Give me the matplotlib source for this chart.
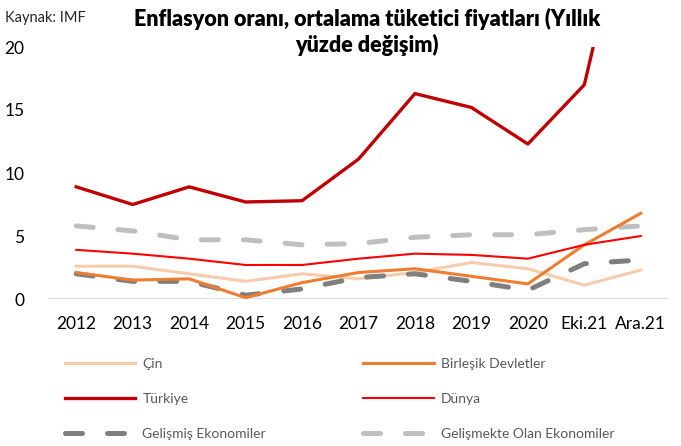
import matplotlib
matplotlib.use("Agg")
import matplotlib.pyplot as plt
import numpy as np

plt.rcParams['font.family'] = ['Lato', 'DejaVu Sans']

categories = ["2012", "2013", "2014", "2015", "2016", "2017", "2018", "2019", "2020", "Eki.21", "Ara.21"]
cin = [2.6, 2.6, 2.0, 1.4, 2.0, 1.6, 2.1, 2.9, 2.4, 1.1, 2.3]
abd = [2.1, 1.5, 1.6, 0.1, 1.3, 2.1, 2.4, 1.8, 1.2, 4.3, 6.8]
turkiye = [8.9, 7.5, 8.9, 7.7, 7.8, 11.1, 16.3, 15.2, 12.3, 17.0, 36.1]
dunya = [3.9, 3.6, 3.2, 2.7, 2.7, 3.2, 3.6, 3.5, 3.2, 4.3, 5.0]
gelismis = [2.0, 1.4, 1.4, 0.3, 0.8, 1.7, 2.0, 1.4, 0.7, 2.8, 3.1]
gelismekte = [5.8, 5.4, 4.7, 4.7, 4.3, 4.4, 4.9, 5.1, 5.1, 5.5, 5.8]
yticks = [0, 5, 10, 15, 20]

fig = plt.figure(figsize=(6.81, 4.46), dpi=100)
ax = fig.add_axes([48/681, 1-299/446, (669-48)/681, (299-47)/446])
x = np.arange(len(categories))

dash_lw = 3.6
dash_pat = (3.4, 5.0)
l_gm = ax.plot(x, gelismekte, color='#BFBFBF', lw=dash_lw, dashes=dash_pat,
               dash_capstyle='round', label='Gelişmekte Olan Ekonomiler', zorder=2)[0]
l_cin = ax.plot(x, cin, color='#F8CBAD', lw=2.2, label='Çin', zorder=3)[0]
l_gs = ax.plot(x, gelismis, color='#7F7F7F', lw=dash_lw, dashes=dash_pat,
               dash_capstyle='round', label='Gelişmiş Ekonomiler', zorder=4)[0]
l_abd = ax.plot(x, abd, color='#ED7D31', lw=2.2, label='Birleşik Devletler', zorder=5)[0]
l_dun = ax.plot(x, dunya, color='#FF0000', lw=1.5, label='Dünya', zorder=6)[0]
l_tr = ax.plot(x, turkiye, color='#C00000', lw=2.4, label='Türkiye', zorder=7)[0]

ax.set_xlim(-0.5, len(categories) - 0.5)
ax.set_ylim(0, 20)
ax.set_yticks(yticks)
ax.set_xticks(x)
ax.set_xticklabels(categories)
ax.tick_params(axis='both', length=0, labelsize=12.5, colors='black')
ax.tick_params(axis='x', pad=12)
ax.tick_params(axis='y', pad=17)
for s in ax.spines.values():
    s.set_visible(False)
ax.axhline(0, color='#D9D9D9', lw=1.2, zorder=1)

fig.text(5/681, 1-18/446, "Kaynak: IMF", fontsize=10.5, va='center', ha='left', color='#262626')
fig.text(367/681, 1-32/446, "Enflasyon oranı, ortalama tüketici fiyatları (Yıllık\nyüzde değişim)",
         fontsize=15.5, fontweight='heavy', ha='center', va='center', linespacing=1.2)

handles = [l_cin, l_tr, l_gs, l_abd, l_dun, l_gm]
fig.legend(handles=handles, labels=[h.get_label() for h in handles], ncol=2,
           loc='upper left', bbox_to_anchor=(52/681, 1-345/446), frameon=False,
           fontsize=10, handlelength=5.1, handletextpad=0.5, columnspacing=7.0,
           labelspacing=1.68, labelcolor='#595959')

fig.savefig("out.png", dpi=100)
